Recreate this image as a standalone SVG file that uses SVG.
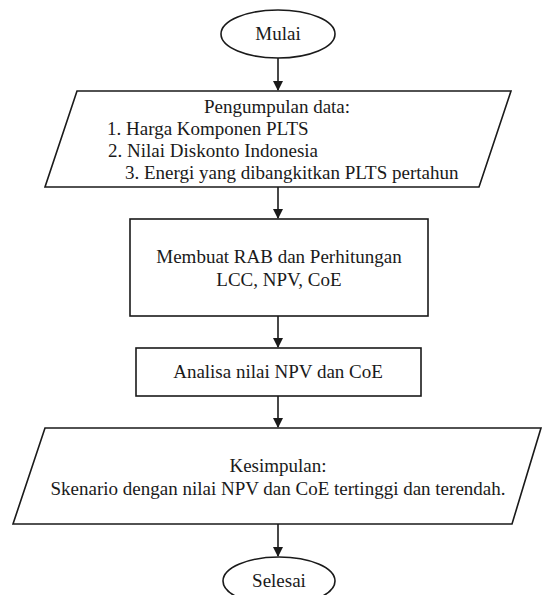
<svg xmlns="http://www.w3.org/2000/svg" width="542" height="595" viewBox="0 0 542 595">
<style>
.s{fill:#fff;stroke:#1a1a1a;stroke-width:1.6}
.t{font-family:'Liberation Serif','DejaVu Serif','Times New Roman',serif;font-size:19px;fill:#1a1a1a}
.c{text-anchor:middle}
.l{stroke:#1a1a1a;stroke-width:1.6;fill:none}
</style>
<defs>
<marker id="ah" markerWidth="10" markerHeight="10" refX="9" refY="5" orient="auto" markerUnits="userSpaceOnUse">
<path d="M0,0 L10,5 L0,10 Z" fill="#1a1a1a"/>
</marker>
</defs>
<rect width="542" height="595" fill="#fff"/>
<g id="connectors">
<line class="l" x1="278" y1="58" x2="278" y2="90" marker-end="url(#ah)"/>
<line class="l" x1="278" y1="187" x2="278" y2="218" marker-end="url(#ah)"/>
<line class="l" x1="278" y1="316" x2="278" y2="347" marker-end="url(#ah)"/>
<line class="l" x1="278" y1="396" x2="278" y2="427" marker-end="url(#ah)"/>
<line class="l" x1="278" y1="524" x2="278" y2="556" marker-end="url(#ah)"/>
</g>
<g id="mulai">
<ellipse class="s" cx="278" cy="34" rx="57" ry="24"/>
<text class="t c" font-family="Liberation Serif, serif" x="278" y="40">Mulai</text>
</g>
<g id="pengumpulan">
<polygon class="s" points="77,91 511,91 479,187 45,187"/>
<text class="t c" x="277" y="113">Pengumpulan data:</text>
<text class="t" x="107" y="135">1. Harga Komponen PLTS</text>
<text class="t" x="108" y="157">2. Nilai Diskonto Indonesia</text>
<text class="t" x="125" y="179">3. Energi yang dibangkitkan PLTS pertahun</text>
</g>
<g id="rab">
<rect class="s" x="130" y="219" width="298" height="97"/>
<text class="t c" x="279" y="263">Membuat RAB dan Perhitungan</text>
<text class="t c" x="279" y="286">LCC, NPV, CoE</text>
</g>
<g id="analisa">
<rect class="s" x="136" y="348" width="285" height="48"/>
<text class="t c" x="278" y="378">Analisa nilai NPV dan CoE</text>
</g>
<g id="kesimpulan">
<polygon class="s" points="45,428 541,428 512,524 13,524"/>
<text class="t c" x="278" y="472">Kesimpulan:</text>
<text class="t c" x="278" y="495">Skenario dengan nilai NPV dan CoE tertinggi dan terendah.</text>
</g>
<g id="selesai">
<ellipse class="s" cx="279" cy="581" rx="56" ry="24"/>
<text class="t c" x="279" y="587">Selesai</text>
</g>
</svg>
